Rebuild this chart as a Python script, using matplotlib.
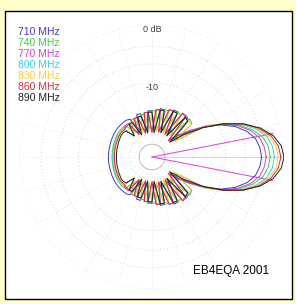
import matplotlib
matplotlib.use("Agg")
import matplotlib.pyplot as plt
import numpy as np
from matplotlib.patches import Rectangle

plt.rcParams['font.family'] = ['Liberation Sans', 'DejaVu Sans']

# angles (deg) for the upper half, the pattern is mirrored for the lower half
angles = np.arange(0, 181, 5)

freqs = ["710 MHz", "740 MHz", "770 MHz", "800 MHz", "830 MHz", "860 MHz", "890 MHz"]
colors = ["#3a3ad0", "#44cc44", "#d640d6", "#33d0e0", "#f2d040", "#d83030", "#202020"]

db_710 = [-3.2, -3.4, -3.9, -5, -6.8, -9.5, -13.5, -18.5, -27, -16, -15.5, -26, -16, -16, -27, -17, -17, -27, -18,
          -18, -27, -18.5, -18.5, -26, -19, -18.5, -18.5, -18.5, -18.5, -18.6, -18.7, -18.8, -18.9, -19, -19, -19, -19]
db_740 = [-1.9, -2.1, -2.7, -4, -6, -9, -13.5, -27, -16, -15.5, -26, -16.5, -16, -27, -17, -17, -27, -18, -18,
          -27, -19, -19, -27, -19.5, -19.5, -25, -20, -19.8, -19.8, -19.8, -20, -20.2, -20.3, -20.4, -20.5, -20.5, -20.5]
db_770 = [-2.5, -2.7, -3.2, -4.4, -6.3, -9.1, -13, -18, -23, -29, -15.5, -15.5, -27, -16.5, -16.5, -28, -17.5, -17.5,
          -28, -18.5, -18.5, -28, -19.5, -19.5, -27, -20, -20, -20.5, -20.5, -20.5, -20.8, -21, -21, -21.2, -21.3, -21.4, -21.4]
db_800 = [-1.3, -1.5, -2.1, -3.4, -5.6, -8.8, -13, -19.5, -29, -16.5, -16, -28, -16.5, -16.5, -28, -17.5, -17.5, -28,
          -18.5, -18.5, -28, -19.5, -19.5, -28, -20.5, -20.5, -27, -20.8, -20.5, -20.3, -20.3, -20.4, -20.5, -20.6, -20.7, -20.8, -20.8]
db_830 = [-0.8, -1.0, -1.8, -3.2, -5.4, -8.6, -13, -28, -16.5, -16, -27, -16.5, -16.5, -28, -17.5, -17.5, -28, -18.5,
          -18.5, -28, -19.5, -19.5, -28, -20.5, -20.5, -26, -21, -20.5, -20.5, -20.5, -20.8, -21, -21, -21.2, -21.3, -21.3, -21.3]
db_860 = [-0.4, -0.7, -1.5, -3.0, -5.3, -8.8, -13.5, -19.5, -24, -30, -16, -15.5, -28, -16.5, -16.5, -28, -17.5, -17.5,
          -29, -18.5, -18.5, -29, -19.5, -19.5, -28, -20.5, -20.5, -21, -20.8, -20.8, -21, -21.2, -21.3, -21.4, -21.5, -21.5, -21.5]
db_890 = [0, -0.3, -1.2, -2.8, -5.3, -9, -14, -21, -30, -16.5, -16, -28, -16.5, -16.5, -28, -17.5, -17.5, -29, -18.5,
          -18.5, -29, -19.5, -19.5, -29, -20.5, -20.5, -27, -22, -21.5, -21.5, -21.8, -22, -22.2, -22.3, -22.4, -22.5, -22.5]
patterns = [db_710, db_740, db_770, db_800, db_830, db_860, db_890]

grid_db = [0, -3, -6, -10, -20, -30]
inner_ring_db = -40
beam_edges = [11, -11]   # pink beamwidth lines (deg)
beam_edge_db = -1.2


def arrl(db):
    # ARRL log-periodic scale: 0.89 radius factor for each 2 dB
    return 0.89 ** (-np.asarray(db, dtype=float) / 2.0)


fig = plt.figure(figsize=(2.96, 3.04), dpi=100)
fig.patch.set_facecolor("#ffffcc")
fig.patches.append(Rectangle((5 / 296, 1 - 299 / 304), 287 / 296, 288 / 304, transform=fig.transFigure,
                             facecolor="white", edgecolor="black", linewidth=1.0, zorder=-5))

ax = fig.add_axes([20 / 296, 1 - 289 / 304, 264 / 296, 264 / 304], projection="polar")
ax.set_zorder(2)
ax.set_facecolor("none")
ax.set_ylim(0, 1)
ax.grid(False)
ax.set_xticks([])
ax.set_yticks([])
ax.spines["polar"].set_visible(False)

# dotted grid
th = np.linspace(0, 2 * np.pi, 361)
for g in grid_db:
    ax.plot(th, np.full_like(th, arrl(g)), color="#c8c8c8", lw=0.6, ls=(0, (1, 3)))
ax.plot(th, np.full_like(th, arrl(inner_ring_db)), color="#b0b0b0", lw=0.6)
for a in range(0, 360, 15):
    ax.plot([np.radians(a)] * 2, [arrl(inner_ring_db), 1], color="#d0d0d0", lw=0.5, ls=(0, (1, 3.5)))

# reference lines
ax.plot([0, 0], [0, arrl(-0.4)], color="#b8e8b8", lw=0.7)
for b in beam_edges:
    ax.plot([np.radians(b)] * 2, [0, arrl(beam_edge_db)], color="#e050e0", lw=0.8)

full_ang = np.radians(np.concatenate([angles, 360 - angles[::-1][1:]]))
for db, c in zip(patterns, colors):
    db = np.asarray(db)
    full_db = np.concatenate([db, db[::-1][1:]])
    ax.plot(full_ang, arrl(full_db), color=c, lw=0.7)

ax.text(np.pi / 2, arrl(0) - 0.035, "0 dB", ha="center", va="center", fontsize=6.5, color="#404040")
ax.text(np.pi / 2, arrl(-10) - 0.035, "-10", ha="center", va="center", fontsize=6.5, color="#404040")

for i, (f, c) in enumerate(zip(freqs, colors)):
    fig.text(18 / 296, 1 - (32 + 11 * i) / 304, f, color=c, fontsize=7.5, ha="left", va="center")

fig.text(193 / 296, 1 - 271 / 304, "EB4EQA 2001", fontsize=8.5, ha="left", va="center", color="black")

fig.savefig("out.png", dpi=100)
